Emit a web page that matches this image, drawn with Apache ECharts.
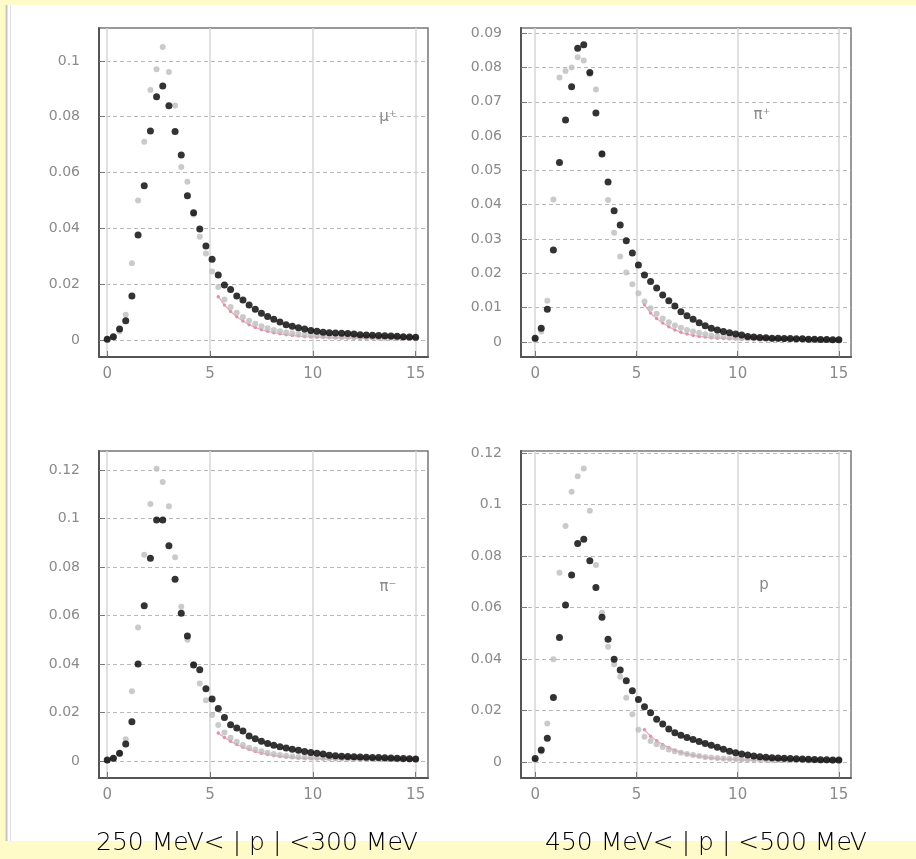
<!DOCTYPE html>
<html>
<head>
<meta charset="utf-8">
<script src="https://cdn.jsdelivr.net/npm/echarts@6/dist/echarts.min.js"></script>
<style>
  html, body { margin: 0; padding: 0; background: #fffbc8; }
  #main { width: 916px; height: 859px; }
</style>
</head>
<body>
<div id="main"></div>
<script>
// momentum bins (bin centres, 0.3 wide)
var bins = [0, 0.3, 0.6, 0.9, 1.2, 1.5, 1.8, 2.1, 2.4, 2.7,
    3.0, 3.3, 3.6, 3.9, 4.2, 4.5, 4.8, 5.1, 5.4, 5.7,
    6.0, 6.3, 6.6, 6.9, 7.2, 7.5, 7.8, 8.1, 8.4, 8.7,
    9.0, 9.3, 9.6, 9.9, 10.2, 10.5, 10.8, 11.1, 11.4, 11.7,
    12.0, 12.3, 12.6, 12.9, 13.2, 13.5, 13.8, 14.1, 14.4, 14.7, 15.0];
// bins where the red curve is drawn
var tailBins = [5.4, 5.7, 6.0, 6.3, 6.6, 6.9, 7.2, 7.5, 7.8, 8.1,
    8.4, 8.7, 9.0, 9.3, 9.6, 9.9, 10.2, 10.5, 10.8, 11.1,
    11.4, 11.7, 12.0, 12.3, 12.6, 12.9, 13.2, 13.5, 13.8, 14.1, 14.4, 14.7, 15.0];

// top left (mu+)
var muBlack = [0.0003, 0.0012, 0.0039, 0.0069, 0.0158, 0.0376, 0.0553, 0.0749, 0.0872, 0.0910,
    0.0839, 0.0747, 0.0663, 0.0517, 0.0456, 0.0398, 0.0337, 0.0289, 0.0233, 0.0197,
    0.0181, 0.0158, 0.0143, 0.0125, 0.0110, 0.0096, 0.0084, 0.0074, 0.0064, 0.0055,
    0.0049, 0.0044, 0.0039, 0.0034, 0.0031, 0.0028, 0.0026, 0.0025, 0.0024, 0.0023,
    0.0021, 0.0019, 0.0018, 0.0017, 0.0016, 0.0015, 0.0014, 0.0013, 0.0012, 0.0011, 0.0010];
var muGrey = [0.0002, 0.0010, 0.0030, 0.0090, 0.0275, 0.0500, 0.0710, 0.0896, 0.0970, 0.1050,
    0.0960, 0.0840, 0.0620, 0.0567, 0.0450, 0.0370, 0.0310, 0.0245, 0.0190, 0.0145,
    0.0118, 0.0098, 0.0082, 0.0069, 0.0058, 0.0049, 0.0042, 0.0036, 0.0031, 0.0027,
    0.0024, 0.0021, 0.0019, 0.0017, 0.0015, 0.0014, 0.0013, 0.0012, 0.0011, 0.0011,
    0.0010, 0.0010, 0.0009, 0.0009, 0.0008, 0.0008, 0.0008, 0.0007, 0.0007, 0.0007, 0.0006];
var muRed = [0.0155, 0.0125, 0.0102, 0.0083, 0.0068, 0.0055, 0.0045, 0.0037, 0.0031, 0.0026,
    0.0022, 0.0019, 0.0016, 0.0014, 0.0012, 0.0011, 0.0010, 0.0009, 0.0008, 0.0008,
    0.0007, 0.0007, 0.0006, 0.0006, 0.0006, 0.0005, 0.0005, 0.0005, 0.0005, 0.0004, 0.0004, 0.0004, 0.0004];

// top right (pi+)
var piPlusBlack = [0.0011, 0.0040, 0.0095, 0.0268, 0.0523, 0.0647, 0.0744, 0.0856, 0.0866, 0.0785,
    0.0667, 0.0548, 0.0466, 0.0382, 0.0341, 0.0295, 0.0259, 0.0224, 0.0195, 0.0176,
    0.0157, 0.0137, 0.0120, 0.0105, 0.0088, 0.0076, 0.0066, 0.0056, 0.0047, 0.0040,
    0.0035, 0.0030, 0.0027, 0.0023, 0.0020, 0.0016, 0.0014, 0.0013, 0.0012, 0.0011,
    0.0011, 0.0010, 0.0010, 0.0009, 0.0009, 0.0008, 0.0008, 0.0007, 0.0007, 0.0006, 0.0006];
var piPlusGrey = [0.0006, 0.0030, 0.0120, 0.0415, 0.0771, 0.0790, 0.0800, 0.0830, 0.0820, 0.0780,
    0.0736, 0.0550, 0.0414, 0.0318, 0.0249, 0.0202, 0.0168, 0.0142, 0.0118, 0.0098,
    0.0082, 0.0068, 0.0057, 0.0048, 0.0041, 0.0035, 0.0030, 0.0026, 0.0022, 0.0019,
    0.0017, 0.0015, 0.0013, 0.0012, 0.0011, 0.0010, 0.0010, 0.0009, 0.0009, 0.0008,
    0.0008, 0.0008, 0.0007, 0.0007, 0.0007, 0.0006, 0.0006, 0.0006, 0.0006, 0.0005, 0.0005];
var piPlusRed = [0.0108, 0.0084, 0.0068, 0.0055, 0.0044, 0.0035, 0.0028, 0.0023, 0.0019, 0.0016,
    0.0014, 0.0012, 0.0011, 0.0010, 0.0009, 0.0009, 0.0008, 0.0008, 0.0007, 0.0007,
    0.0007, 0.0006, 0.0006, 0.0006, 0.0006, 0.0005, 0.0005, 0.0005, 0.0005, 0.0005, 0.0004, 0.0004, 0.0004];

// bottom left (pi)
var piBlack = [0.0004, 0.0011, 0.0032, 0.0070, 0.0162, 0.0400, 0.0640, 0.0836, 0.0994, 0.0994,
    0.0887, 0.0749, 0.0609, 0.0515, 0.0396, 0.0376, 0.0298, 0.0256, 0.0217, 0.0179,
    0.0150, 0.0136, 0.0124, 0.0103, 0.0092, 0.0081, 0.0072, 0.0065, 0.0059, 0.0054,
    0.0049, 0.0044, 0.0039, 0.0035, 0.0032, 0.0029, 0.0024, 0.0022, 0.0020, 0.0019,
    0.0018, 0.0017, 0.0016, 0.0015, 0.0014, 0.0013, 0.0012, 0.0011, 0.0010, 0.0009, 0.0008];
var piGrey = [0.0002, 0.0008, 0.0030, 0.0090, 0.0288, 0.0550, 0.0850, 0.1060, 0.1205, 0.1150,
    0.1050, 0.0840, 0.0636, 0.0500, 0.0400, 0.0320, 0.0250, 0.0190, 0.0148, 0.0118,
    0.0096, 0.0079, 0.0066, 0.0055, 0.0047, 0.0040, 0.0034, 0.0029, 0.0025, 0.0022,
    0.0019, 0.0017, 0.0015, 0.0014, 0.0013, 0.0012, 0.0011, 0.0010, 0.0010, 0.0009,
    0.0009, 0.0008, 0.0008, 0.0008, 0.0007, 0.0007, 0.0007, 0.0006, 0.0006, 0.0006, 0.0006];
var piRed = [0.0115, 0.0097, 0.0081, 0.0068, 0.0057, 0.0047, 0.0039, 0.0032, 0.0027, 0.0022,
    0.0019, 0.0016, 0.0014, 0.0012, 0.0011, 0.0010, 0.0009, 0.0008, 0.0008, 0.0007,
    0.0007, 0.0006, 0.0006, 0.0006, 0.0005, 0.0005, 0.0005, 0.0005, 0.0004, 0.0004, 0.0004, 0.0004, 0.0004];

// bottom right (p)
var pBlack = [0.0014, 0.0047, 0.0092, 0.0251, 0.0484, 0.0610, 0.0726, 0.0849, 0.0865, 0.0782,
    0.0678, 0.0562, 0.0477, 0.0399, 0.0357, 0.0316, 0.0277, 0.0243, 0.0215, 0.0191,
    0.0166, 0.0148, 0.0128, 0.0114, 0.0104, 0.0095, 0.0088, 0.0080, 0.0072, 0.0065,
    0.0057, 0.0050, 0.0042, 0.0036, 0.0031, 0.0027, 0.0023, 0.0021, 0.0019, 0.0017,
    0.0016, 0.0015, 0.0014, 0.0013, 0.0012, 0.0011, 0.0010, 0.0009, 0.0009, 0.0008, 0.0008];
var pGrey = [0.0008, 0.0040, 0.0150, 0.0399, 0.0735, 0.0917, 0.1050, 0.1110, 0.1140, 0.0976,
    0.0765, 0.0580, 0.0448, 0.0380, 0.0331, 0.0250, 0.0186, 0.0125, 0.0098, 0.0082,
    0.0069, 0.0058, 0.0049, 0.0042, 0.0036, 0.0031, 0.0027, 0.0023, 0.0020, 0.0018,
    0.0016, 0.0014, 0.0013, 0.0012, 0.0011, 0.0010, 0.0010, 0.0009, 0.0009, 0.0008,
    0.0008, 0.0008, 0.0007, 0.0007, 0.0007, 0.0006, 0.0006, 0.0006, 0.0006, 0.0005, 0.0005];
var pRed = [0.0125, 0.0100, 0.0083, 0.0068, 0.0056, 0.0046, 0.0038, 0.0031, 0.0026, 0.0022,
    0.0018, 0.0015, 0.0013, 0.0011, 0.0010, 0.0009, 0.0008, 0.0008, 0.0007, 0.0007,
    0.0006, 0.0006, 0.0006, 0.0005, 0.0005, 0.0005, 0.0005, 0.0004, 0.0004, 0.0004, 0.0004, 0.0004, 0.0004];

// axis ticks
var xTicks = [0, 5, 10, 15];
var yTicksMu = [0, 0.02, 0.04, 0.06, 0.08, 0.1];
var yTicksPiPlus = [0, 0.01, 0.02, 0.03, 0.04, 0.05, 0.06, 0.07, 0.08, 0.09];
var yTicksPi = [0, 0.02, 0.04, 0.06, 0.08, 0.1, 0.12];
var yTicksP = [0, 0.02, 0.04, 0.06, 0.08, 0.1, 0.12];

var particleLabels = ['μ⁺', 'π⁺', 'π⁻', 'p'];
var rangeLabels = ['250 MeV< | p | <300 MeV', '450 MeV< | p | <500 MeV'];

var panels = [
    { black: muBlack, grey: muGrey, red: muRed, yTicks: yTicksMu, yMin: -0.0061, yMax: 0.1118, xMin: -0.4,
      grid: { left: 99, top: 28, width: 329, height: 329 }, labelPos: [388, 117] },
    { black: piPlusBlack, grey: piPlusGrey, red: piPlusRed, yTicks: yTicksPiPlus, yMin: -0.0044, yMax: 0.0915, xMin: -0.7,
      grid: { left: 521, top: 28, width: 330, height: 329 }, labelPos: [762, 115] },
    { black: piBlack, grey: piGrey, red: piRed, yTicks: yTicksPi, yMin: -0.007, yMax: 0.1278, xMin: -0.4,
      grid: { left: 99, top: 451, width: 329, height: 327 }, labelPos: [388, 587] },
    { black: pBlack, grey: pGrey, red: pRed, yTicks: yTicksP, yMin: -0.0062, yMax: 0.1208, xMin: -0.7,
      grid: { left: 521, top: 451, width: 330, height: 327 }, labelPos: [764, 585] }
];

function pairs(xs, ys) {
    var out = [];
    for (var i = 0; i < xs.length && i < ys.length; i++) {
        out.push([xs[i], ys[i]]);
    }
    return out;
}

var grids = [], xAxes = [], yAxes = [], series = [], graphics = [];

// page background: white sheet on yellow, grey rule on the left
graphics.push({ type: 'rect', z: -10, shape: { x: 5, y: 5, width: 911, height: 836 }, style: { fill: '#ffffff' } });
graphics.push({ type: 'line', z: -9, shape: { x1: 6.5, y1: 5, x2: 6.5, y2: 841 }, style: { stroke: '#c4c4c4', lineWidth: 2 } });
graphics.push({ type: 'line', z: -9, shape: { x1: 10.5, y1: 5, x2: 10.5, y2: 841 }, style: { stroke: '#e2e2e2', lineWidth: 1 } });

panels.forEach(function (p, i) {
    grids.push({
        left: p.grid.left, top: p.grid.top, width: p.grid.width, height: p.grid.height,
        show: true, borderColor: '#777', borderWidth: 1.5, backgroundColor: '#fff'
    });
    xAxes.push({
        type: 'value', gridIndex: i, min: p.xMin, max: 15.6,
        axisLine: { show: true, onZero: false, lineStyle: { color: '#555', width: 2 } },
        axisTick: { show: true, inside: true, length: 6, customValues: xTicks, lineStyle: { color: '#777' } },
        axisLabel: { customValues: xTicks, color: '#8a8a8a', fontSize: 15, margin: 10, fontFamily: 'DejaVu Sans' },
        splitLine: { show: true, lineStyle: { color: '#d6d6d6', width: 1.5 } }
    });
    yAxes.push({
        type: 'value', gridIndex: i, min: p.yMin, max: p.yMax,
        axisLine: { show: true, onZero: false, lineStyle: { color: '#555', width: 2 } },
        axisTick: { show: true, inside: true, length: 6, customValues: p.yTicks, lineStyle: { color: '#777' } },
        axisLabel: { customValues: p.yTicks, color: '#8a8a8a', fontSize: 14, margin: 19, fontFamily: 'DejaVu Sans' },
        splitLine: { show: true, lineStyle: { color: '#b8b8b8', type: [4, 3], width: 1.2 } }
    });
    series.push({
        type: 'line', xAxisIndex: i, yAxisIndex: i, data: pairs(tailBins, p.red),
        symbol: 'circle', symbolSize: 3.5, showSymbol: true,
        itemStyle: { color: '#e393a8' }, lineStyle: { color: '#eaaabb', width: 1.3 },
        silent: true, z: 1
    });
    series.push({
        type: 'scatter', xAxisIndex: i, yAxisIndex: i, data: pairs(bins, p.grey),
        symbol: 'circle', symbolSize: 6, itemStyle: { color: '#bdbdbd' }, silent: true, z: 2
    });
    series.push({
        type: 'scatter', xAxisIndex: i, yAxisIndex: i, data: pairs(bins, p.black),
        symbol: 'circle', symbolSize: 7, itemStyle: { color: '#000000' }, silent: true, z: 3
    });
    graphics.push({
        type: 'text', x: p.labelPos[0], y: p.labelPos[1], z: 10,
        style: { text: particleLabels[i], fill: '#8a8a8a', fontSize: 15, fontFamily: 'DejaVu Sans',
                 align: 'center', verticalAlign: 'middle' }
    });
});

graphics.push({
    type: 'text', x: 257, y: 843, z: 10,
    style: { text: rangeLabels[0], fill: '#000', fontSize: 25, fontWeight: 200, fontFamily: 'DejaVu Sans',
             align: 'center', verticalAlign: 'middle' }
});
graphics.push({
    type: 'text', x: 706, y: 843, z: 10,
    style: { text: rangeLabels[1], fill: '#000', fontSize: 25, fontWeight: 200, fontFamily: 'DejaVu Sans',
             align: 'center', verticalAlign: 'middle' }
});

var chartDom = document.getElementById('main');
var myChart = echarts.init(chartDom, null, { renderer: 'canvas' });
myChart.setOption({
    backgroundColor: '#fffbc8',
    animation: false,
    grid: grids,
    xAxis: xAxes,
    yAxis: yAxes,
    series: series,
    graphic: graphics
});
</script>
</body>
</html>
